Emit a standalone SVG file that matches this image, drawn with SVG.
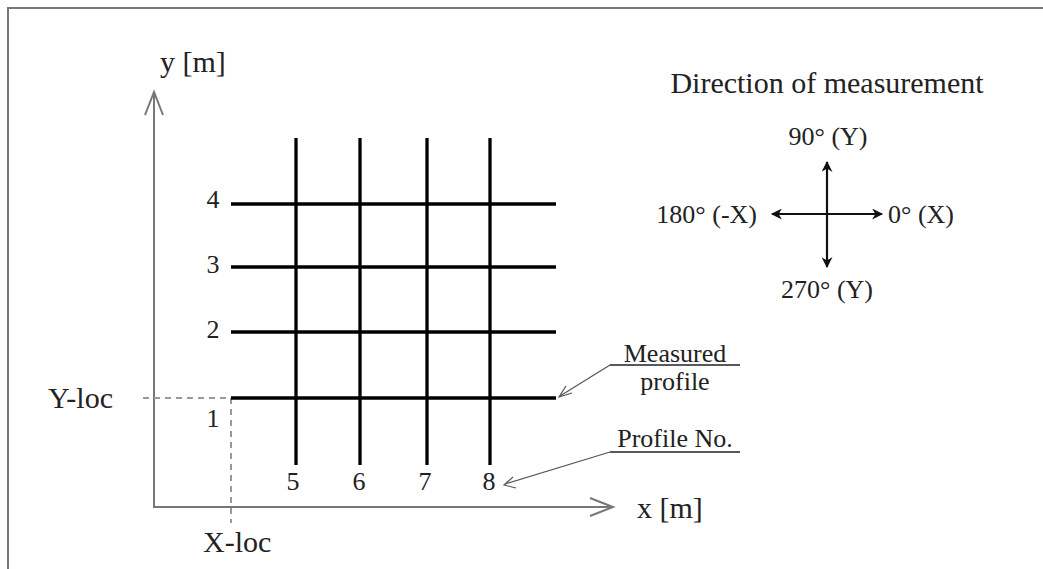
<svg xmlns="http://www.w3.org/2000/svg" width="1043" height="569" viewBox="0 0 1043 569">
<defs>
<style>
text{font-family:"Liberation Serif","Times New Roman",serif;fill:#222}
.big{font-size:30px}
.num{font-size:26px}
.grid{stroke:#000;stroke-width:3.3;fill:none}
.axis{stroke:#777;stroke-width:2;fill:none}
.dash{stroke:#999;stroke-width:2;stroke-dasharray:6,5;fill:none}
.lead{stroke:#555;stroke-width:1.2;fill:none}
.ul{stroke:#222;stroke-width:1.5}
.dir{stroke:#111;stroke-width:2.2;fill:none}
</style>
<marker id="fa" viewBox="0 0 10 10" refX="9" refY="5" markerWidth="12" markerHeight="11" orient="auto-start-reverse" markerUnits="userSpaceOnUse">
<path d="M0,0 L10,5 L0,10 L3,5 Z" fill="#111"/>
</marker>
</defs>
<rect width="1043" height="569" fill="#fff"/>
<path d="M8,569 V8 H1043" stroke="#777" stroke-width="2" fill="none"/>

<g id="connectors">
<path class="axis" d="M154,93 V507 H612"/>
<path class="axis" d="M145,115 L154,92 L163,115"/>
<path class="axis" d="M590,498 L613,507 L590,516"/>
<path class="dash" d="M143,398 H231 V523"/>
<path class="lead" d="M610,365 L560,396"/>
<path class="lead" d="M566,386 L559,397 L572,393"/>
<path class="lead" d="M610,452 L505,484"/>
<path class="lead" d="M513,477 L504,485 L516,488"/>
<line class="dir" x1="827" y1="214" x2="827" y2="162" marker-end="url(#fa)"/>
<line class="dir" x1="827" y1="214" x2="827" y2="267" marker-end="url(#fa)"/>
<line class="dir" x1="827" y1="214" x2="772" y2="214" marker-end="url(#fa)"/>
<line class="dir" x1="827" y1="214" x2="882" y2="214" marker-end="url(#fa)"/>
</g>

<g id="grid">
<line class="grid" x1="231" y1="204" x2="556" y2="204"/>
<line class="grid" x1="231" y1="267" x2="556" y2="267"/>
<line class="grid" x1="231" y1="332" x2="556" y2="332"/>
<line class="grid" x1="231" y1="398" x2="556" y2="398"/>
<line class="grid" x1="296" y1="138" x2="296" y2="465"/>
<line class="grid" x1="360" y1="138" x2="360" y2="465"/>
<line class="grid" x1="427" y1="138" x2="427" y2="465"/>
<line class="grid" x1="490" y1="138" x2="490" y2="465"/>
</g>

<g id="labels">
<text class="big" x="160" y="72">y [m]</text>
<text class="big" x="637" y="518">x [m]</text>
<text class="big" x="48" y="408">Y-loc</text>
<text class="big" x="203" y="552">X-loc</text>
<text class="num" x="213" y="208" text-anchor="middle">4</text>
<text class="num" x="213" y="273" text-anchor="middle">3</text>
<text class="num" x="213" y="338" text-anchor="middle">2</text>
<text class="num" x="213" y="427" text-anchor="middle">1</text>
<text class="num" x="293" y="490" text-anchor="middle">5</text>
<text class="num" x="359" y="490" text-anchor="middle">6</text>
<text class="num" x="425" y="490" text-anchor="middle">7</text>
<text class="num" x="489" y="490" text-anchor="middle">8</text>
</g>

<g id="measured-profile">
<text class="num" x="675" y="362" text-anchor="middle">Measured</text>
<text class="num" x="675" y="390" text-anchor="middle">profile</text>
<line class="ul" x1="610" y1="365" x2="740" y2="365"/>
</g>
<g id="profile-no">
<text class="num" x="675" y="447" text-anchor="middle">Profile No.</text>
<line class="ul" x1="610" y1="452" x2="740" y2="452"/>
</g>

<g id="direction">
<text class="big" x="827" y="93" text-anchor="middle">Direction of measurement</text>
<text class="num" x="828" y="145" text-anchor="middle">90° (Y)</text>
<text class="num" x="827" y="298" text-anchor="middle">270° (Y)</text>
<text class="num" x="757" y="223" text-anchor="end">180° (-X)</text>
<text class="num" x="888" y="223">0° (X)</text>
</g>
</svg>
